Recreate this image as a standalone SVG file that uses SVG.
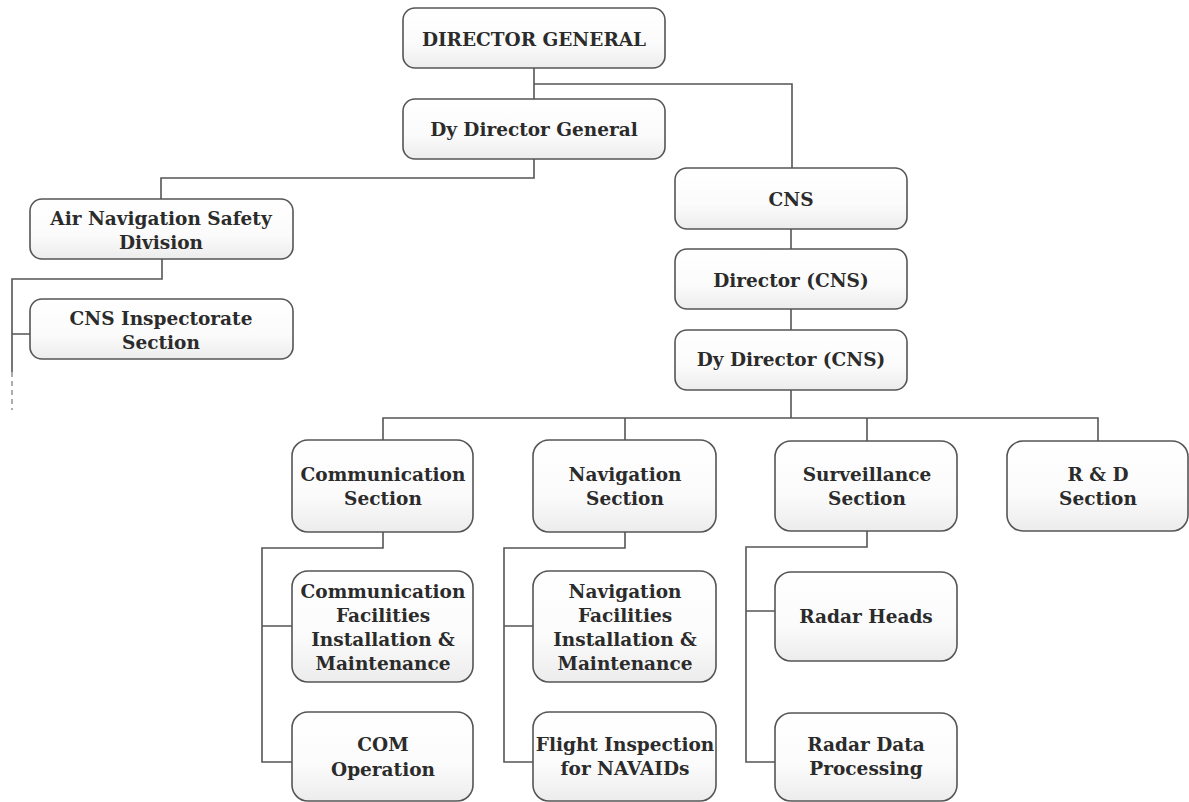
<svg xmlns="http://www.w3.org/2000/svg" width="1189" height="802" viewBox="0 0 1189 802">
<defs>
<linearGradient id="g" x1="0" y1="0" x2="0" y2="1">
<stop offset="0" stop-color="#ffffff"/>
<stop offset="0.6" stop-color="#fbfbfb"/>
<stop offset="1" stop-color="#ececec"/>
</linearGradient>
<style>
.b{fill:url(#g);stroke:#555;stroke-width:1.6}
.t{font-family:"DejaVu Serif","Liberation Serif",serif;font-weight:bold;font-size:18.5px;fill:#2b2b2b;text-anchor:middle}
.c{fill:none;stroke:#555;stroke-width:1.6}
.d{fill:none;stroke:#777;stroke-width:1.2;stroke-dasharray:5 4}
</style>
</defs>
<rect width="1189" height="802" fill="#fff"/>
<g id="connectors">
<path class="c" d="M534 68V99M534 84H792V168"/>
<path class="c" d="M534 159V178H161V199"/>
<path class="c" d="M162 259V279H12V372M12 334H30"/>
<path class="d" d="M12 372V410"/>
<path class="c" d="M791 229V249M791 309V330M791 390V418"/>
<path class="c" d="M383 440V418H1098V441M625 418V440M867 418V441"/>
<path class="c" d="M383 532V548H262V762H292M262 626H292"/>
<path class="c" d="M625 532V548H504V762H533M504 626H533"/>
<path class="c" d="M867 531V547H746V762H775M746 611H775"/>
</g>
<g id="dg"><rect class="b" x="403" y="8" width="262" height="60" rx="12"/><text class="t" x="534" y="46">DIRECTOR GENERAL</text></g>
<g id="ddg"><rect class="b" x="403" y="99" width="262" height="60" rx="12"/><text class="t" x="534" y="136">Dy Director General</text></g>
<g id="ans"><rect class="b" x="30" y="199" width="263" height="60" rx="12"/><text class="t" x="161" y="225">Air Navigation Safety</text><text class="t" x="161" y="249">Division</text></g>
<g id="cnsi"><rect class="b" x="30" y="299" width="263" height="60" rx="12"/><text class="t" x="161" y="325">CNS Inspectorate</text><text class="t" x="161" y="349">Section</text></g>
<g id="cns"><rect class="b" x="675" y="168" width="232" height="61" rx="12"/><text class="t" x="791" y="206">CNS</text></g>
<g id="dcns"><rect class="b" x="675" y="249" width="232" height="60" rx="12"/><text class="t" x="791" y="287">Director (CNS)</text></g>
<g id="ddcns"><rect class="b" x="675" y="330" width="232" height="60" rx="12"/><text class="t" x="791" y="366">Dy Director (CNS)</text></g>
<g id="comm"><rect class="b" x="292" y="440" width="181" height="92" rx="16"/><text class="t" x="383" y="481">Communication</text><text class="t" x="383" y="505">Section</text></g>
<g id="nav"><rect class="b" x="533" y="440" width="183" height="92" rx="16"/><text class="t" x="625" y="481">Navigation</text><text class="t" x="625" y="505">Section</text></g>
<g id="surv"><rect class="b" x="775" y="441" width="182" height="90" rx="16"/><text class="t" x="867" y="481">Surveillance</text><text class="t" x="867" y="505">Section</text></g>
<g id="rd"><rect class="b" x="1007" y="441" width="181" height="90" rx="16"/><text class="t" x="1098" y="481">R &amp; D</text><text class="t" x="1098" y="505">Section</text></g>
<g id="cfim"><rect class="b" x="292" y="571" width="181" height="111" rx="16"/><text class="t" x="383" y="598">Communication</text><text class="t" x="383" y="622">Facilities</text><text class="t" x="383" y="646">Installation &amp;</text><text class="t" x="383" y="670">Maintenance</text></g>
<g id="comop"><rect class="b" x="292" y="712" width="181" height="89" rx="16"/><text class="t" x="383" y="751">COM</text><text class="t" x="383" y="776">Operation</text></g>
<g id="nfim"><rect class="b" x="533" y="571" width="183" height="111" rx="16"/><text class="t" x="625" y="598">Navigation</text><text class="t" x="625" y="622">Facilities</text><text class="t" x="625" y="646">Installation &amp;</text><text class="t" x="625" y="670">Maintenance</text></g>
<g id="fin"><rect class="b" x="533" y="712" width="183" height="89" rx="16"/><text class="t" x="625" y="751">Flight Inspection</text><text class="t" x="625" y="775">for NAVAIDs</text></g>
<g id="rh"><rect class="b" x="775" y="572" width="182" height="89" rx="16"/><text class="t" x="866" y="623">Radar Heads</text></g>
<g id="rdp"><rect class="b" x="775" y="713" width="182" height="88" rx="16"/><text class="t" x="866" y="751">Radar Data</text><text class="t" x="866" y="775">Processing</text></g>
</svg>
